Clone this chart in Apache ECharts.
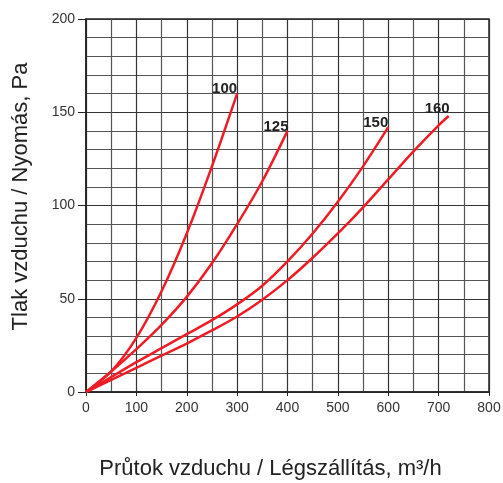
<!DOCTYPE html>
<html>
<head>
<meta charset="utf-8">
<script src="https://cdn.jsdelivr.net/npm/echarts@6/dist/echarts.min.js"></script>
<style>
html,body{margin:0;padding:0;background:#fff;}
#c{width:503px;height:483px;}
</style>
</head>
<body>
<div id="c"></div>
<script>
const seriesNames = ['100', '125', '150', '160'];
const s100 = [[0,0],[50,11],[100,29],[150,54],[200,85],[250,121],[300,160]];
const s125 = [[0,0],[50,11],[100,23],[150,36],[200,51],[250,69],[300,90],[350,113],[400,140]];
const s150 = [[0,0],[50,8],[100,16],[150,23.5],[200,31],[250,38.5],[300,47],[350,57],[400,70],[450,85],[500,102],[550,121],[600,142]];
const s160 = [[0,0],[50,6.5],[100,13],[150,19.5],[200,26],[250,33],[300,40.5],[350,49.5],[400,60],[450,72],[500,85],[550,99],[600,114],[650,129],[700,143],[720,148]];
const xTicks = [0,100,200,300,400,500,600,700,800];
const yTicks = [0,50,100,150,200];
const xName = 'Průtok vzduchu / Légszállítás, m³/h';
const yName = 'Tlak vzduchu / Nyomás, Pa';

const labelOffsets = [[0,3],[1,3],[0,3],[1,0]];
const allData = [s100, s125, s150, s160];

const chart = echarts.init(document.getElementById('c'), null, {renderer:'canvas'});
const gridLine = {show:true, lineStyle:{color:'#333', width:1.2}};
const font = '"Liberation Sans", Arial, Helvetica, sans-serif';

chart.setOption({
  animation:false,
  backgroundColor:'#fff',
  grid:{left:86, right:14, top:19, bottom:91, show:true, borderColor:'#222', borderWidth:1.5, backgroundColor:'transparent', containLabel:false, outerBoundsMode:'none'},
  xAxis:{
    type:'value', min:xTicks[0], max:xTicks[xTicks.length-1], interval:100,
    name:xName, nameLocation:'middle', nameGap:66,
    nameTextStyle:{fontFamily:font, fontSize:22, color:'#222', padding:[0,34,0,0]},
    axisLine:{show:true, lineStyle:{color:'#222', width:1.5}},
    axisTick:{show:true, length:4, lineStyle:{color:'#222', width:1}},
    axisLabel:{fontFamily:font, fontSize:14, color:'#333', margin:9},
    splitLine:gridLine,
    minorTick:{show:false, splitNumber:2},
    minorSplitLine:{show:true, lineStyle:{color:'#555', width:1.2}}
  },
  yAxis:{
    type:'value', min:yTicks[0], max:yTicks[yTicks.length-1], interval:50,
    name:yName, nameLocation:'middle', nameGap:54,
    nameTextStyle:{fontFamily:font, fontSize:22, color:'#222', padding:[0,0,0,18]},
    axisLine:{show:true, lineStyle:{color:'#222', width:1.5}},
    axisTick:{show:true, length:8, lineStyle:{color:'#222', width:1}},
    axisLabel:{fontFamily:font, fontSize:14, color:'#333', margin:11},
    splitLine:gridLine,
    minorTick:{show:false, splitNumber:5},
    minorSplitLine:{show:true, lineStyle:{color:'#555', width:1.2}}
  },
  series: allData.map((d, i) => ({
    name: seriesNames[i],
    type:'line',
    data:d,
    smooth:0.3,
    symbol:'none',
    lineStyle:{color:'#ee1c25', width:2.5},
    endLabel:{
      show:true, formatter:'{a}', distance:0,
      align:'right', verticalAlign:'bottom',
      offset:labelOffsets[i],
      fontFamily:font, fontSize:15, fontWeight:'bold', color:'#222'
    },
    z:5
  }))
});
</script>
</body>
</html>
